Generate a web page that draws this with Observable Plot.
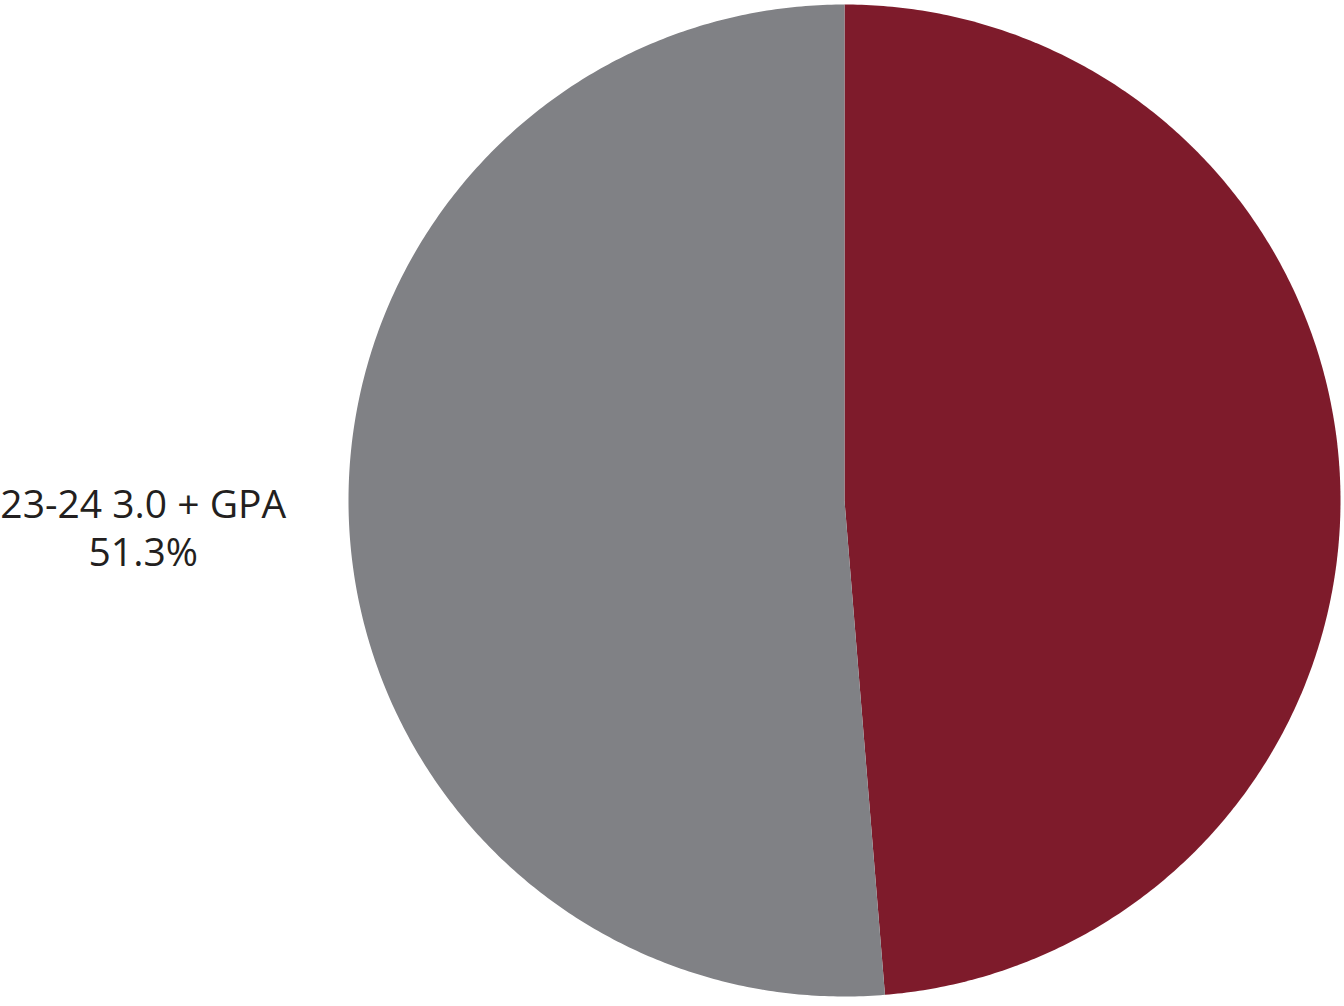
<!DOCTYPE html>
<html>
<head>
<meta charset="utf-8">
<script src="https://cdn.jsdelivr.net/npm/d3@7"></script>
<script src="https://cdn.jsdelivr.net/npm/@observablehq/plot@0.6"></script>
<style>
  html, body { margin: 0; padding: 0; background: #fff; overflow: hidden; }
  #chart svg { display: block; }
</style>
</head>
<body>
<div id="chart"></div>
<script>
// ---- Data ----
const categories = ["Below 3.0 GPA", "23-24 3.0 + GPA"];
const values = [48.7, 51.3];
const colors = ["#7e1b2b", "#808185"];
const showLabel = [false, true];

// ---- Geometry (data space: unit-radius pie) ----
const W = 1344, H = 1006;
const R = 496;            // pixels per data unit
const cx = 844, cy = 500; // pie centre in pixels
const labelRadius = 1.415;

const pie = d3.pie().sort(null).value(d => d.value);
const slices = pie(categories.map((c, i) => ({cat: c, value: values[i], color: colors[i], show: showLabel[i]})));

const outline = [];
for (const s of slices) {
  const n = Math.max(2, Math.ceil((s.endAngle - s.startAngle) / (Math.PI / 360)));
  outline.push({cat: s.data.cat, x: 0, y: 0});
  for (let k = 0; k <= n; k++) {
    const a = s.startAngle + (s.endAngle - s.startAngle) * k / n;
    outline.push({cat: s.data.cat, x: Math.sin(a), y: Math.cos(a)});
  }
  outline.push({cat: s.data.cat, x: 0, y: 0});
}

const labels = slices.filter(s => s.data.show).map(s => {
  const a = (s.startAngle + s.endAngle) / 2;
  return {
    x: labelRadius * Math.sin(a),
    y: labelRadius * Math.cos(a),
    name: s.data.cat,
    pct: `${s.data.value.toFixed(1)}%`
  };
});

const chart = Plot.plot({
  width: W,
  height: H,
  margin: 0,
  style: {fontFamily: "'Open Sans', sans-serif", background: "#fff"},
  x: {domain: [-cx / R, (W - cx) / R], range: [0, W], axis: null},
  y: {domain: [-(H - cy) / R, cy / R], range: [H, 0], axis: null},
  color: {domain: categories, range: colors},
  marks: [
    Plot.line(outline, {x: "x", y: "y", z: "cat", fill: "cat", stroke: null, curve: "linear"}),
    Plot.text(labels, {
      x: "x", y: "y", text: "name", dy: -24,
      fontSize: 39, fill: "#231f20", textAnchor: "middle"
    }),
    Plot.text(labels, {
      x: "x", y: "y", text: "pct", dy: 24,
      fontSize: 39, fill: "#231f20", textAnchor: "middle"
    })
  ]
});
document.getElementById("chart").appendChild(chart);
</script>
</body>
</html>
